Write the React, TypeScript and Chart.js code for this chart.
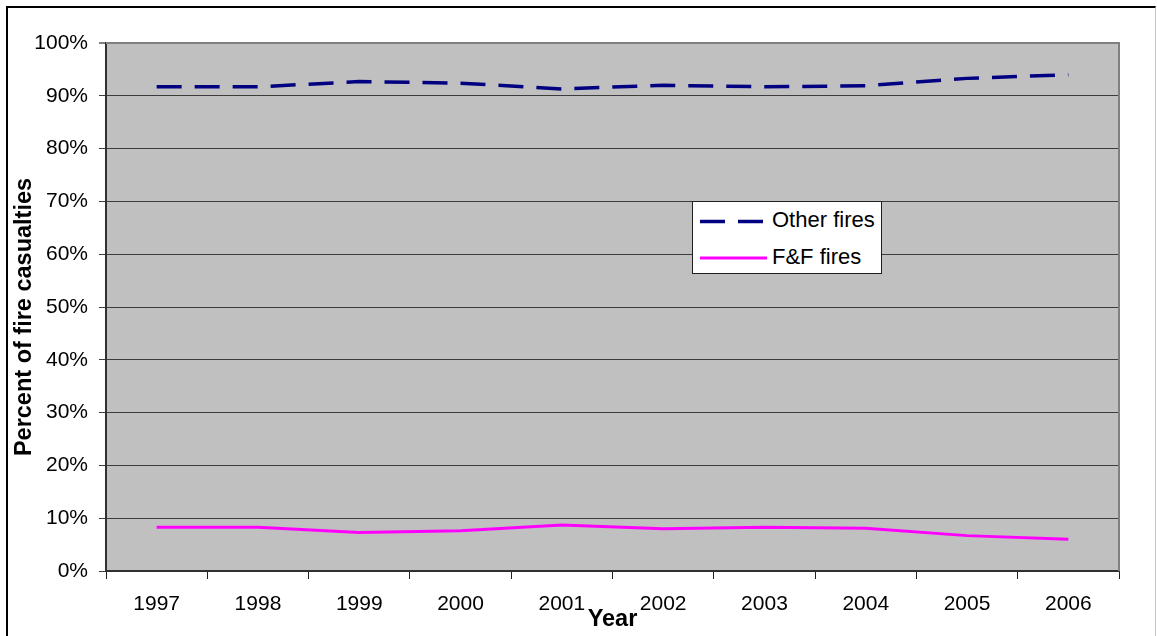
import { useEffect, useRef } from 'react';
import { Chart, registerables } from 'chart.js';

Chart.register(...registerables);

const years = ['1997', '1998', '1999', '2000', '2001', '2002', '2003', '2004', '2005', '2006'];
const otherFires = [91.7, 91.7, 92.7, 92.4, 91.3, 92.0, 91.7, 91.9, 93.3, 94.0];
const ffFires = [8.3, 8.3, 7.3, 7.6, 8.7, 8.0, 8.3, 8.1, 6.7, 6.0];
const legendLabels = ['Other fires', 'F&F fires'];
const yTitle = 'Percent of fire casualties';
const xTitle = 'Year';

const FONT = "'Liberation Sans', Arial, sans-serif";
const NAVY = '#000080';
const MAGENTA = '#FF00FF';

const plotFrame = {
  id: 'plotFrame',
  beforeDraw(chart: any) {
    const { ctx, chartArea } = chart;
    ctx.save();
    ctx.fillStyle = '#C0C0C0';
    ctx.fillRect(chartArea.left, chartArea.top, chartArea.right - chartArea.left, chartArea.bottom - chartArea.top);
    ctx.restore();
  },
  beforeDatasetsDraw(chart: any) {
    const { ctx, chartArea } = chart;
    ctx.save();
    ctx.strokeStyle = '#808080';
    ctx.lineWidth = 2;
    ctx.beginPath();
    ctx.moveTo(chartArea.left, chartArea.top);
    ctx.lineTo(chartArea.right, chartArea.top);
    ctx.lineTo(chartArea.right, chartArea.bottom);
    ctx.stroke();
    ctx.restore();
  },
  afterDraw(chart: any) {
    // Y-axis title, placed as in the reference (slightly below the plot's centre)
    const { ctx, chartArea } = chart;
    ctx.save();
    ctx.translate(25, (chartArea.top + chartArea.bottom) / 2 + 10);
    ctx.rotate(-Math.PI / 2);
    ctx.font = `bold 23.5px ${FONT}`;
    ctx.fillStyle = '#000';
    ctx.textAlign = 'center';
    ctx.textBaseline = 'middle';
    ctx.fillText(yTitle, 0, 0);
    ctx.restore();
  },
};

export default function App() {
  const ref = useRef<HTMLCanvasElement | null>(null);

  useEffect(() => {
    if (!ref.current) return;
    const chart = new Chart(ref.current, {
      type: 'line',
      data: {
        labels: years,
        datasets: [
          {
            label: legendLabels[0],
            data: otherFires,
            borderColor: NAVY,
            borderWidth: 3.5,
            borderDash: [25, 13],
            pointRadius: 0,
            tension: 0,
            fill: false,
          },
          {
            label: legendLabels[1],
            data: ffFires,
            borderColor: MAGENTA,
            borderWidth: 3,
            pointRadius: 0,
            tension: 0,
            fill: false,
          },
        ],
      },
      options: {
        animation: false,
        responsive: false,
        devicePixelRatio: 1,
        layout: { padding: { left: 0, top: 43, right: 38, bottom: 0 } },
        plugins: {
          legend: { display: false },
          tooltip: { enabled: false },
        },
        scales: {
          x: {
            type: 'category',
            offset: true,
            afterFit(scale: any) {
              scale.height = 65;
            },
            grid: {
              offset: true,
              drawOnChartArea: false,
              drawTicks: true,
              tickLength: 8,
              color: '#202020',
              lineWidth: 1,
            },
            border: { display: true, color: '#303030', width: 2 },
            ticks: {
              color: '#000',
              font: { family: FONT, size: 21 },
              padding: 13,
              maxRotation: 0,
              autoSkip: false,
            },
            title: {
              display: true,
              text: xTitle,
              color: '#000',
              font: { family: FONT, size: 23.5, weight: 'bold' },
              padding: { top: 0, bottom: 2 },
            },
          },
          y: {
            min: 0,
            max: 100,
            afterFit(scale: any) {
              scale.width = 106;
            },
            grid: {
              color: (c: any) => (c.tick && c.tick.value === 100 ? '#808080' : '#3c3c3c'),
              lineWidth: (c: any) => (c.tick && c.tick.value === 100 ? 2 : 1),
              tickLength: 7,
              drawTicks: true,
            },
            border: { display: true, color: '#303030', width: 2 },
            ticks: {
              stepSize: 10,
              color: '#000',
              font: { family: FONT, size: 21 },
              padding: 11,
              callback: (v: any) => v + '%',
            },
            title: { display: false },
          },
        },
      },
      plugins: [plotFrame],
    });
    return () => chart.destroy();
  }, []);

  const textStyle: any = {
    position: 'absolute',
    left: 772,
    fontFamily: FONT,
    fontSize: 22,
    lineHeight: '24px',
    color: '#000',
    whiteSpace: 'nowrap',
  };

  return (
    <div style={{ position: 'fixed', left: 0, top: 0, width: 1157, height: 636, overflow: 'hidden', background: '#fff' }}>
      <canvas ref={ref} width={1157} height={636} style={{ position: 'absolute', left: 0, top: 0, width: 1157, height: 636 }} />
      <div
        style={{
          position: 'absolute',
          left: 6,
          top: 6,
          width: 1150,
          height: 630,
          boxSizing: 'border-box',
          borderLeft: '2px solid #000',
          borderTop: '2px solid #000',
          borderRight: '1px solid #c4c4c4',
          pointerEvents: 'none',
        }}
      />
      <div
        style={{
          position: 'absolute',
          left: 692,
          top: 201,
          width: 190,
          height: 73,
          boxSizing: 'border-box',
          background: '#fff',
          border: '1px solid #202020',
        }}
      />
      <svg width={1157} height={636} style={{ position: 'absolute', left: 0, top: 0, pointerEvents: 'none' }}>
        <line x1={700} y1={221.5} x2={763} y2={221.5} stroke={NAVY} strokeWidth={3.5} strokeDasharray="25 13" />
        <line x1={700} y1={258} x2={767} y2={258} stroke={MAGENTA} strokeWidth={3} />
      </svg>
      <span style={{ ...textStyle, top: 208 }}>{legendLabels[0]}</span>
      <span style={{ ...textStyle, top: 245 }}>{legendLabels[1]}</span>
    </div>
  );
}
